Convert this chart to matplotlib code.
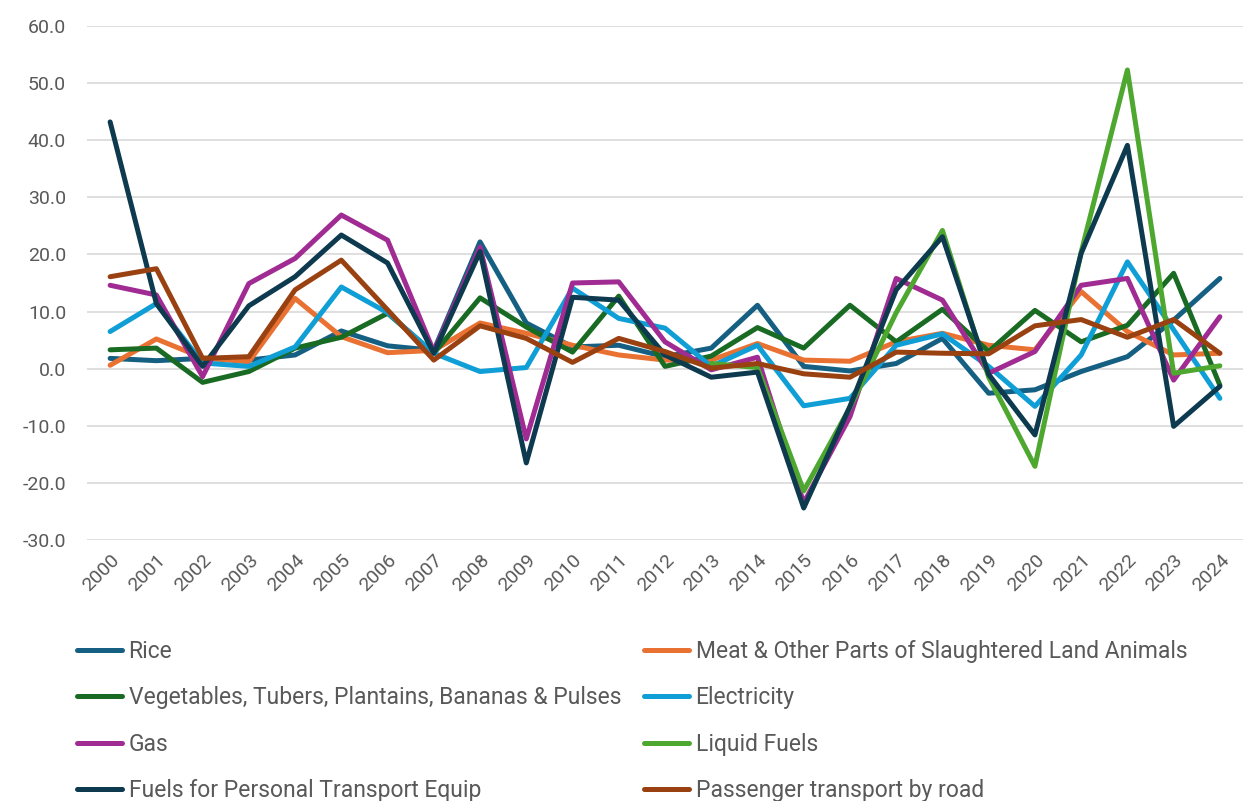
import numpy as np
import matplotlib
matplotlib.use("Agg")
import matplotlib.pyplot as plt

# Year-on-year change (%) by item
years = [str(y) for y in range(2000, 2025)]

rice = [1.8, 1.4, 1.8, 1.5, 2.4, 6.6, 4.0, 3.2, 22.2, 8.0, 3.8, 4.1, 2.1, 3.6, 11.1,
        0.4, -0.4, 0.9, 5.3, -4.3, -3.7, -0.5, 2.1, 8.5, 15.8]
meat = [0.6, 5.2, 1.9, 1.2, 12.3, 5.6, 2.8, 3.2, 8.0, 6.2, 4.1, 2.4, 1.5, 1.5, 4.4,
        1.5, 1.3, 4.7, 6.2, 4.1, 3.3, 13.5, 6.5, 2.4, 2.7]
vegetables = [3.3, 3.6, -2.4, -0.5, 3.6, 5.5, 9.7, 2.7, 12.4, 7.3, 2.9, 12.7, 0.4, 2.2, 7.2,
              3.6, 11.1, 4.7, 10.4, 3.0, 10.2, 4.7, 7.6, 16.7, -2.9]
electricity = [6.5, 11.4, 1.0, 0.4, 3.8, 14.3, 9.8, 2.7, -0.5, 0.2, 14.1, 8.8, 7.1, 0.4, 4.1,
               -6.5, -5.2, 4.1, 6.1, 0.4, -6.6, 2.4, 18.7, 6.8, -5.2]
gas = [14.6, 12.9, -1.4, 14.9, 19.3, 26.9, 22.5, 3.0, 21.3, -12.3, 15.0, 15.2, 4.7, -0.2, 2.0,
       -23.5, -8.4, 15.8, 12.0, -0.8, 3.0, 14.6, 15.8, -2.0, 9.1]
liquid_fuels = [np.nan] * 13 + [0.9, 0.2, -21.4, -6.8, 9.8, 24.2, -1.5, -17.1, 20.4, 52.3,
                                -0.8, 0.5]
personal_fuels = [43.2, 11.4, 0.4, 11.0, 16.1, 23.4, 18.5, 2.7, 20.5, -16.5, 12.5, 12.0, 2.4,
                  -1.5, -0.6, -24.4, -6.6, 13.8, 23.1, -1.0, -11.6, 20.2, 39.1, -10.1, -3.1]
passenger_road = [16.1, 17.5, 1.8, 2.1, 13.8, 19.0, 10.3, 1.5, 7.5, 5.3, 1.1, 5.3, 3.0, 0.1, 0.9,
                  -0.9, -1.5, 2.9, 2.7, 2.6, 7.5, 8.6, 5.5, 8.6, 2.7]

labels = ["Rice", "Meat & Other Parts of Slaughtered Land Animals",
          "Vegetables, Tubers, Plantains, Bananas & Pulses", "Electricity",
          "Gas", "Liquid Fuels", "Fuels for Personal Transport Equip",
          "Passenger transport by road"]
series = [rice, meat, vegetables, electricity, gas, liquid_fuels,
          personal_fuels, passenger_road]
colors = ["#156082", "#E97132", "#196B24", "#0F9ED5", "#A02B93", "#4EA72E",
          "#0D3A4E", "#994111"]

plt.rcParams['font.family'] = ['Roboto', 'DejaVu Sans']
text_color = "#595959"

fig = plt.figure(figsize=(12.47, 8.01), dpi=100)
ax = fig.add_axes([87 / 1247, 1 - 540 / 801, (1243 - 87) / 1247, (540 - 26) / 801])

x = np.arange(len(years))
handles = []
for vals, lab, col in zip(series, labels, colors):
    h, = ax.plot(x, vals, color=col, lw=3.6, label=lab,
                 solid_capstyle='round', solid_joinstyle='round')
    handles.append(h)

ax.set_xlim(-0.5, len(years) - 0.5)
ax.set_ylim(-30, 60)
ax.set_yticks(np.arange(-30, 61, 10))
ax.set_yticklabels([f"{v:.1f}" for v in np.arange(-30, 61, 10)])
ax.set_xticks(x)
ax.set_xticklabels(years, rotation=45, ha='right', rotation_mode='anchor')
ax.tick_params(axis='both', length=0, colors=text_color, labelsize=14)
ax.tick_params(axis='y', pad=15)
ax.tick_params(axis='x', pad=8)
ax.grid(axis='y', color='#D9D9D9', lw=1.2)
ax.set_axisbelow(True)
for s in ax.spines.values():
    s.set_visible(False)

# Two-column legend, filled row by row
order = [0, 2, 4, 6, 1, 3, 5, 7]
leg = fig.legend([handles[i] for i in order], [labels[i] for i in order],
                 ncol=2, loc='upper left', bbox_to_anchor=(77 / 1247, 1 - 640 / 801),
                 frameon=False, fontsize=16.5, handlelength=1.97, handletextpad=0.28,
                 columnspacing=1.0, labelspacing=1.02, borderpad=0, borderaxespad=0)
for t in leg.get_texts():
    t.set_color(text_color)

fig.savefig("out.png", dpi=100)
